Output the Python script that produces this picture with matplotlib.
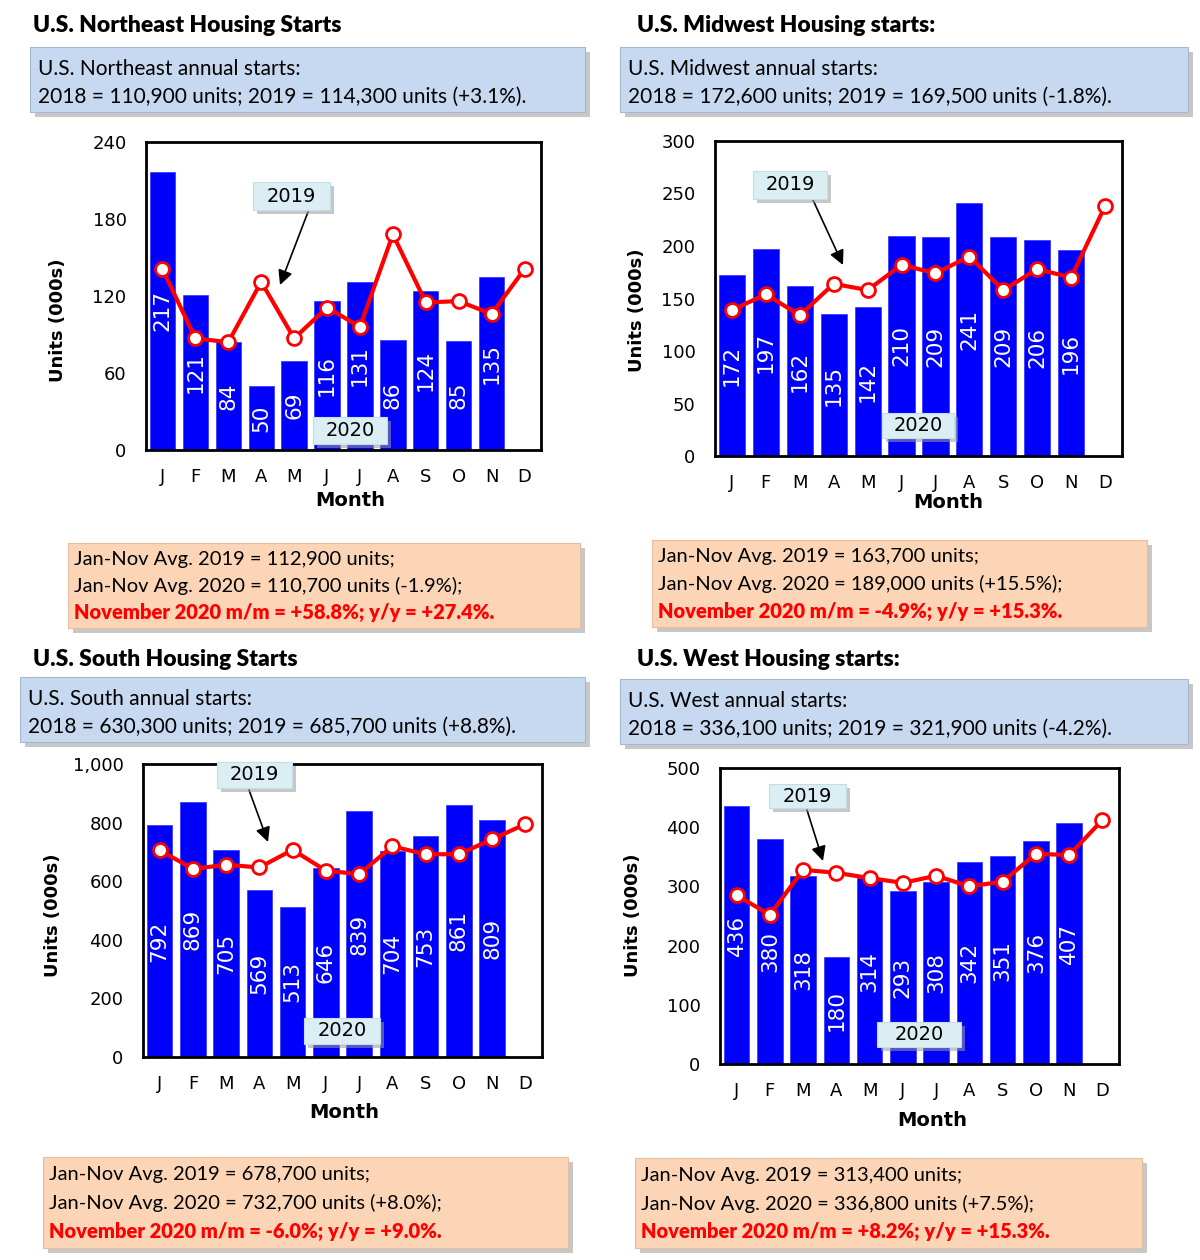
#!/usr/bin/env python3
"""Regional housing starts, 2020 monthly (bars) vs 2019 (line), four panels."""

import matplotlib
matplotlib.use("Agg")
import matplotlib.pyplot as plt  # noqa: E402
from matplotlib.patches import Rectangle  # noqa: E402

W, H = 1200, 1260  # figure size in pixels (dpi 100)

MONTHS = ["J", "F", "M", "A", "M", "J", "J", "A", "S", "O", "N", "D"]

# 2020 (bars, Jan-Nov) and 2019 (line, Jan-Dec), thousands of units SAAR
ne_2020 = [217, 121, 84, 50, 69, 116, 131, 86, 124, 85, 135]
ne_2019 = [141, 87, 84, 131, 87, 111, 96, 168, 115, 116, 106, 141]
mw_2020 = [172, 197, 162, 135, 142, 210, 209, 241, 209, 206, 196]
mw_2019 = [139, 154, 134, 164, 158, 182, 174, 190, 158, 178, 170, 238]
so_2020 = [792, 869, 705, 569, 513, 646, 839, 704, 753, 861, 809]
so_2019 = [706, 642, 656, 647, 707, 636, 624, 719, 692, 692, 743, 795]
we_2020 = [436, 380, 318, 180, 314, 293, 308, 342, 351, 376, 407]
we_2019 = [285, 252, 328, 323, 314, 306, 318, 300, 308, 355, 353, 412]

ne_ticks = [0, 60, 120, 180, 240]
mw_ticks = [0, 50, 100, 150, 200, 250, 300]
so_ticks = [0, 200, 400, 600, 800, 1000]
so_ticklabels = ["0", "200", "400", "600", "800", "1,000"]
we_ticks = [0, 100, 200, 300, 400, 500]

TXT = "Lato"
AX = "DejaVu Sans"

fig = plt.figure(figsize=(W / 100, H / 100), dpi=100)
fig.patch.set_facecolor("white")


def fx(x):
    return x / W


def fy(y):
    return 1 - y / H


def box(l, t, r, b, fc, ec="#a6b8cf", z=5, shadow=5):
    if shadow:
        fig.patches.append(Rectangle((fx(l + shadow), fy(b + shadow)), fx(r - l), (b - t) / H,
                                     transform=fig.transFigure, fc="#9a9a9a", ec="none",
                                     alpha=0.55, zorder=z - 0.2))
    fig.patches.append(Rectangle((fx(l), fy(b)), fx(r - l), (b - t) / H,
                                 transform=fig.transFigure, fc=fc, ec=ec, lw=0.8, zorder=z))


def panel(p):
    # title and blue info box
    fig.text(fx(p["title_xy"][0]), fy(p["title_xy"][1]), p["title"], fontsize=16.5,
             fontweight="heavy", family=TXT, va="center", ha="left")
    l, t, r, b = p["blue"]
    box(l, t, r, b, "#c6d9f0")
    fig.text(fx(l + 8), fy(t + 22), p["blue_l1"], fontsize=15, family=TXT, va="center", zorder=6)
    fig.text(fx(l + 8), fy(t + 50), p["blue_l2"], fontsize=15, family=TXT, va="center", zorder=6)

    # chart
    l, t, r, b = p["ax"]
    ax = fig.add_axes([fx(l), fy(b), fx(r - l), (b - t) / H])
    xb = list(range(len(p["y2020"])))
    xl = list(range(len(p["y2019"])))
    ax.bar(xb, p["y2020"], width=0.77, color="#0000ff", edgecolor="#3030ff", lw=0.5, zorder=2)
    for xi, v in zip(xb, p["y2020"]):
        ax.text(xi, v / 2, str(v), rotation=90, ha="center", va="center", color="white",
                fontsize=15.5, family=AX, zorder=3)
    ax.plot(xl, p["y2019"], color="#ff0000", lw=3, marker="o", ms=10,
            mfc="white", mec="#ff0000", mew=2, zorder=4, clip_on=False)
    ax.set_xlim(-0.5, 11.5)
    ax.set_ylim(0, p["ticks"][-1])
    ax.set_yticks(p["ticks"])
    ax.set_yticklabels(p.get("ticklabels", [str(v) for v in p["ticks"]]), family=AX, fontsize=13)
    ax.set_xticks(xl)
    ax.set_xticklabels(MONTHS, family=AX, fontsize=13)
    ax.tick_params(length=0, axis="x", pad=13)
    ax.tick_params(length=0, axis="y", pad=14)
    for s in ax.spines.values():
        s.set_linewidth(2)
    fig.text(fx(p["month_xy"][0]), fy(p["month_xy"][1]), "Month", fontsize=14,
             fontweight="heavy", family=AX, ha="center", va="center")
    fig.text(fx(p["ylab_xy"][0]), fy(p["ylab_xy"][1]), "Units (000s)", fontsize=13,
             fontweight="heavy", family=AX, rotation=90, ha="center", va="center")

    # callouts
    l, t, r, b = p["c2019"]
    box(l, t, r, b, "#dbeef4", ec="#c5dde6", z=7, shadow=4)
    fig.text(fx((l + r) / 2), fy((t + b) / 2), "2019", fontsize=14, family=AX,
             ha="center", va="center", zorder=8)
    (x0, y0), (x1, y1) = p["arrow"]
    ax.annotate("", xy=(x1, H - y1), xycoords="figure pixels", xytext=(x0, H - y0),
                textcoords="figure pixels", annotation_clip=False,
                arrowprops=dict(arrowstyle="-|>", color="black", lw=1.2,
                                mutation_scale=22, shrinkA=0, shrinkB=0), zorder=8)
    l, t, r, b = p["c2020"]
    box(l, t, r, b, "#dbeef4", ec="#c5dde6", z=7, shadow=4)
    fig.text(fx((l + r) / 2), fy((t + b) / 2), "2020", fontsize=14, family=AX,
             ha="center", va="center", zorder=8)

    # orange summary box
    l, t, r, b = p["orange"]
    box(l, t, r, b, "#fbd5b5", ec="#e3bfa0")
    step = (b - t) / 3.2
    for i, line in enumerate(p["orange_lines"]):
        red = i == 2
        fig.text(fx(l + 6), fy(t + step * (0.62 + i)), line, fontsize=14.5, family=TXT,
                 color="#ff0000" if red else "black", fontweight="heavy" if red else "normal",
                 va="center", zorder=6)


panels = [
    dict(title="U.S. Northeast Housing Starts", title_xy=(33, 26), blue=(30, 47, 585, 112),
         blue_l1="U.S. Northeast annual starts:",
         blue_l2="2018 = 110,900 units; 2019 = 114,300 units (+3.1%).",
         ax=(146, 142, 541, 450), y2020=ne_2020, y2019=ne_2019, ticks=ne_ticks,
         month_xy=(350, 501), ylab_xy=(58, 320),
         c2019=(253, 182, 330, 210), arrow=((308, 212), (280, 285)), c2020=(313, 417, 387, 444),
         orange=(68, 543, 580, 628),
         orange_lines=["Jan-Nov Avg. 2019 = 112,900 units;",
                       "Jan-Nov Avg. 2020 = 110,700 units (-1.9%);",
                       "November 2020 m/m = +58.8%; y/y = +27.4%."]),
    dict(title="U.S. Midwest Housing starts:", title_xy=(637, 26), blue=(620, 47, 1188, 112),
         blue_l1="U.S. Midwest annual starts:",
         blue_l2="2018 = 172,600 units; 2019 = 169,500 units (-1.8%).",
         ax=(715, 141, 1122, 456), y2020=mw_2020, y2019=mw_2019, ticks=mw_ticks,
         month_xy=(948, 503), ylab_xy=(637, 310),
         c2019=(753, 171, 827, 199), arrow=((813, 200), (843, 265)), c2020=(882, 413, 954, 438),
         orange=(652, 540, 1147, 627),
         orange_lines=["Jan-Nov Avg. 2019 = 163,700 units;",
                       "Jan-Nov Avg. 2020 = 189,000 units (+15.5%);",
                       "November 2020 m/m = -4.9%; y/y = +15.3%."]),
    dict(title="U.S. South Housing Starts", title_xy=(33, 659), blue=(20, 677, 585, 742),
         blue_l1="U.S. South annual starts:",
         blue_l2="2018 = 630,300 units; 2019 = 685,700 units (+8.8%).",
         ax=(143, 764, 542, 1057), y2020=so_2020, y2019=so_2019, ticks=so_ticks,
         ticklabels=so_ticklabels, month_xy=(344, 1112), ylab_xy=(53, 915),
         c2019=(217, 762, 292, 788), arrow=((249, 790), (268, 842)), c2020=(304, 1018, 380, 1044),
         orange=(43, 1157, 568, 1248),
         orange_lines=["Jan-Nov Avg. 2019 = 678,700 units;",
                       "Jan-Nov Avg. 2020 = 732,700 units (+8.0%);",
                       "November 2020 m/m = -6.0%; y/y = +9.0%."]),
    dict(title="U.S. West Housing starts:", title_xy=(637, 659), blue=(620, 679, 1188, 744),
         blue_l1="U.S. West annual starts:",
         blue_l2="2018 = 336,100 units; 2019 = 321,900 units (-4.2%).",
         ax=(720, 768, 1119, 1064), y2020=we_2020, y2019=we_2019, ticks=we_ticks,
         month_xy=(932, 1120), ylab_xy=(633, 915),
         c2019=(769, 784, 846, 808), arrow=((807, 810), (823, 861)), c2020=(877, 1022, 961, 1047),
         orange=(635, 1158, 1142, 1248),
         orange_lines=["Jan-Nov Avg. 2019 = 313,400 units;",
                       "Jan-Nov Avg. 2020 = 336,800 units (+7.5%);",
                       "November 2020 m/m = +8.2%; y/y = +15.3%."]),
]

for p in panels:
    panel(p)

fig.savefig("out.png", dpi=100)
